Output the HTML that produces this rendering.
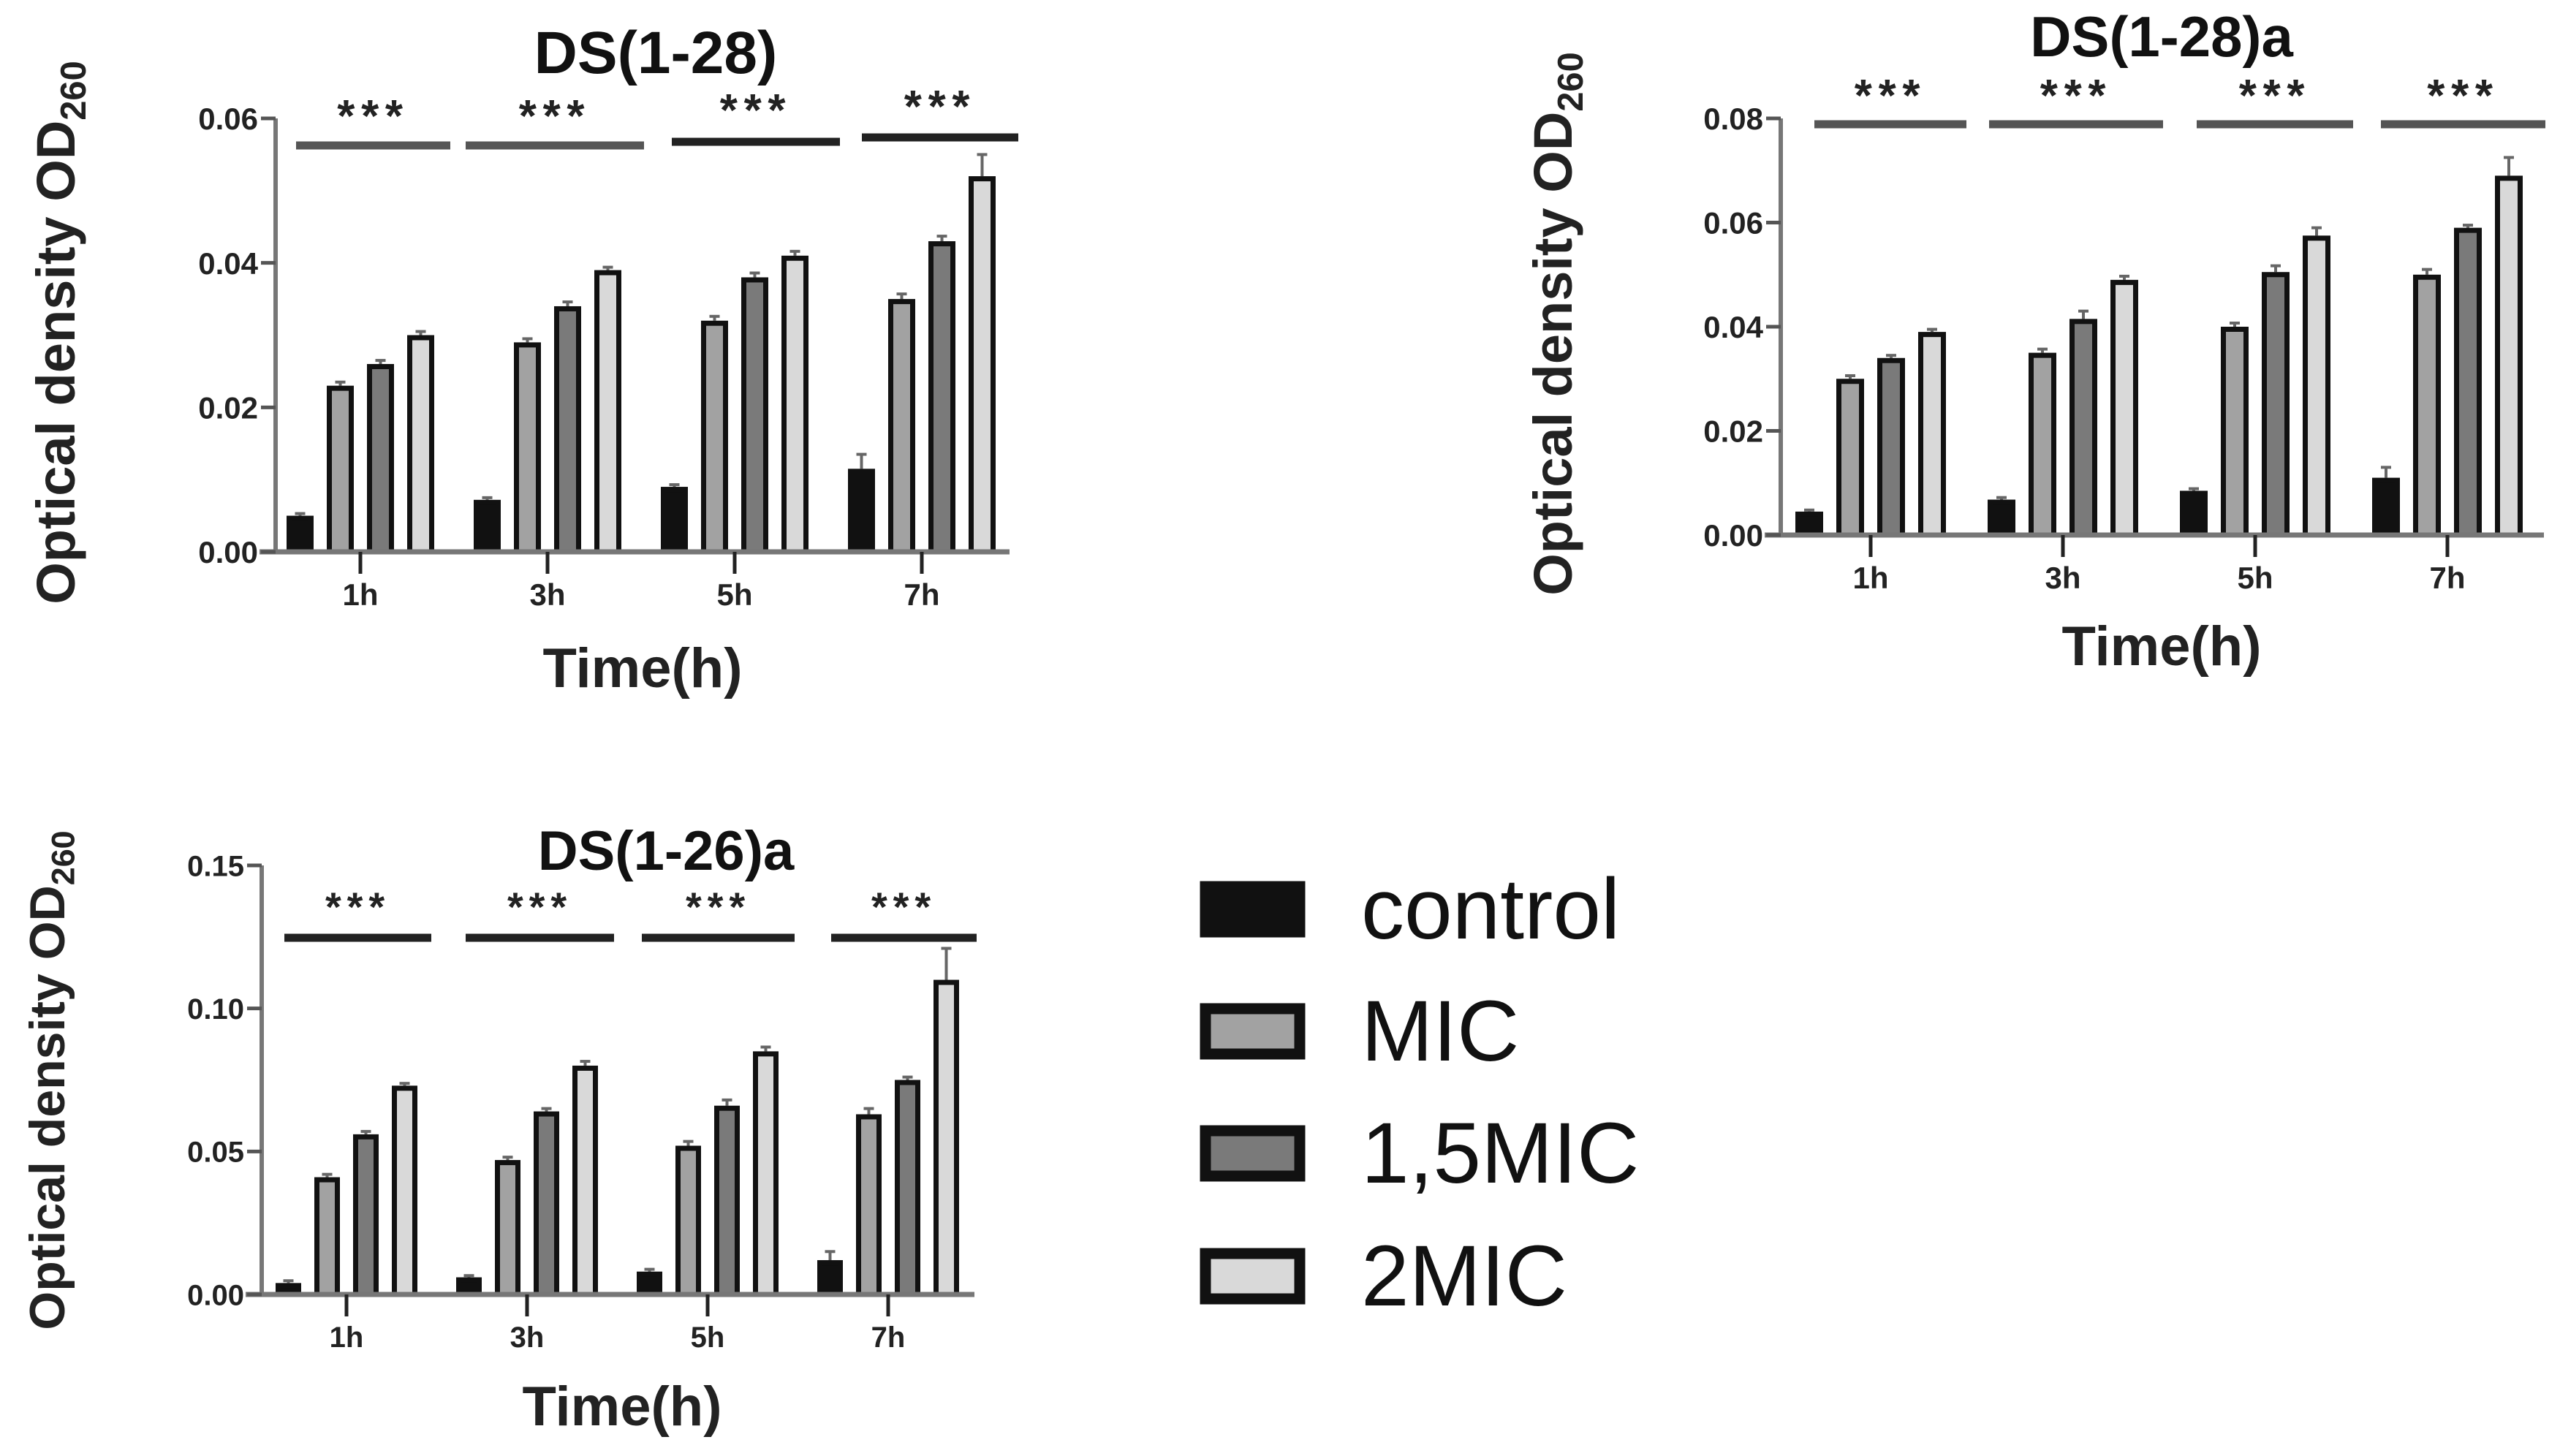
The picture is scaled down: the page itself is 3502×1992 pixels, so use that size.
<!DOCTYPE html>
<html><head><meta charset="utf-8"><style>
html,body{margin:0;padding:0;background:#fff}
svg{display:block}
text{font-family:"Liberation Sans",sans-serif;font-weight:bold}
</style></head><body>
<svg id="fig" width="3502" height="1992" viewBox="0 0 3502 1992" xmlns="http://www.w3.org/2000/svg"></svg>
<script>
// ---- data ----
const categories = ["1h","3h","5h","7h"];
const seriesNames = ["control","MIC","1,5MIC","2MIC"];
const seriesFills = ["#111111","#a2a2a2","#7a7a7a","#d9d9d9"];
// Chart A: DS(1-28)
const a_control = [0.005,0.0072,0.009,0.0115];
const a_mic = [0.023,0.029,0.032,0.035];
const a_mic15 = [0.026,0.034,0.038,0.043];
const a_mic2 = [0.030,0.039,0.041,0.052];
const a_err = [[0.0003,0.0003,0.0003,0.002],[0.0005,0.0005,0.0006,0.0007],[0.0005,0.0006,0.0006,0.0007],[0.0005,0.0004,0.0006,0.003]];
const a_ticks = ["0.00","0.02","0.04","0.06"];
// Chart B: DS(1-28)a
const b_control = [0.0045,0.0068,0.0085,0.011];
const b_mic = [0.030,0.035,0.040,0.050];
const b_mic15 = [0.034,0.0415,0.0505,0.059];
const b_mic2 = [0.039,0.049,0.0575,0.069];
const b_err = [[0.0003,0.0004,0.0004,0.002],[0.0006,0.0007,0.0007,0.001],[0.0005,0.0015,0.0012,0.0005],[0.0005,0.0007,0.0015,0.0035]];
const b_ticks = ["0.00","0.02","0.04","0.06","0.08"];
// Chart C: DS(1-26)a
const c_control = [0.004,0.006,0.008,0.012];
const c_mic = [0.041,0.047,0.052,0.063];
const c_mic15 = [0.056,0.064,0.066,0.075];
const c_mic2 = [0.073,0.080,0.085,0.110];
const c_err = [[0.0008,0.0006,0.0008,0.003],[0.001,0.001,0.0015,0.002],[0.001,0.001,0.002,0.001],[0.0008,0.0015,0.0015,0.011]];
const c_ticks = ["0.00","0.05","0.10","0.15"];

const NS="http://www.w3.org/2000/svg";
const svg=document.getElementById('fig');
function el(tag,attrs,parent){const e=document.createElementNS(NS,tag);for(const k in attrs)e.setAttribute(k,attrs[k]);(parent||svg).appendChild(e);return e;}

function chart(cfg,series,errs,ticks){
  const g=el('g',{});
  
  
  const ymax=parseFloat(ticks[ticks.length-1]);
  const y=v=>cfg.y0-(v/ymax)*(cfg.y0-cfg.yTop);
  const xc=i=>cfg.cx0+i*cfg.step;
  series.forEach((vals,s)=>{
    vals.forEach((v,i)=>{
      const bx=xc(i)+(s-1.5)*cfg.pitch-cfg.bw/2;
      const e=errs[s][i];
      const ln=el('line',{x1:bx+cfg.bw/2,x2:bx+cfg.bw/2,y1:y(v),y2:y(v+e),stroke:'#666','stroke-width':4},g);
      
      
      const cap=el('line',{x1:bx+cfg.bw/2-7,x2:bx+cfg.bw/2+7,y1:y(v+e),y2:y(v+e),stroke:'#666','stroke-width':4},g);
      
      
      const r=el('rect',{x:bx+3.5,y:y(v)+3.5,width:cfg.bw-7,height:Math.max(0,cfg.y0-y(v)-3.5),fill:seriesFills[s],stroke:'#111','stroke-width':7},g);
      
      
    });
  });
  const ya=el('line',{x1:cfg.ax,x2:cfg.ax,y1:cfg.yTop,y2:cfg.y0+3,stroke:'#777','stroke-width':6},g);
  
  
  const xa=el('line',{x1:cfg.ax-22,x2:cfg.xEnd,y1:cfg.y0,y2:cfg.y0,stroke:'#777','stroke-width':7},g);
  
  
  ticks.forEach(t=>{
    const yy=y(parseFloat(t));
    el('line',{x1:cfg.ax-20,x2:cfg.ax,y1:yy,y2:yy,stroke:'#555','stroke-width':5},g);
    const tx=el('text',{x:cfg.ax-24,y:yy+cfg.tf*0.36,'font-size':cfg.tf,'text-anchor':'end',fill:'#222'},g);
    tx.textContent=t;
    
    
  });
  categories.forEach((c,i)=>{
    el('line',{x1:xc(i),x2:xc(i),y1:cfg.y0,y2:cfg.y0+30,stroke:'#222','stroke-width':5},g);
    const tx=el('text',{x:xc(i),y:cfg.y0+cfg.catDy,'font-size':cfg.cf,'text-anchor':'middle',fill:'#222'},g);
    tx.textContent=c;
    
    
  });
  cfg.sig.forEach((s,i)=>{
    const l=el('line',{x1:s[0],x2:s[1],y1:s[2],y2:s[2],stroke:i>=cfg.darkFrom?'#222':'#555','stroke-width':11},g);
    
    
    const st=el('text',{x:(s[0]+s[1])/2,y:s[3],'font-size':cfg.sf,'text-anchor':'middle',fill:'#222','letter-spacing':cfg.sf*0.14},g);
    st.textContent='***';
    
    
  });
  const tt=el('text',{x:cfg.titleX,y:cfg.titleY,'font-size':cfg.titleF,'text-anchor':'middle',fill:'#111'},g);
  tt.textContent=cfg.title;
  
  
  const xt=el('text',{x:cfg.xtX,y:cfg.xtY,'font-size':cfg.xtF,'text-anchor':'middle',fill:'#222'},g);
  xt.textContent='Time(h)';
  
  
  const yt=el('text',{x:0,y:0,'font-size':cfg.ytF,'text-anchor':'middle',fill:'#222',transform:`translate(${cfg.ytX},${cfg.ytY}) rotate(-90)`},g);
  
  
  yt.appendChild(document.createTextNode('Optical density OD'));
  const sub=el('tspan',{'font-size':cfg.ytF*0.66,dy:cfg.ytF*0.2},yt);
  sub.textContent='260';
}

chart({name:'chart-ds-1-28',ax:377,yTop:162,y0:755,xEnd:1381,cx0:493,step:256,pitch:55,bw:37,tf:42,cf:42,catDy:73,
  sig:[[405,616,199,180],[637,881,199,180],[919,1149,194,172],[1179,1393,188,167]],darkFrom:2,sf:62,
  title:'DS(1-28)',titleX:897,titleY:100,titleF:82,xtX:879,xtY:940,xtF:76,ytX:102,ytY:455,ytF:74},
  [a_control,a_mic,a_mic15,a_mic2],a_err,a_ticks);
chart({name:'chart-ds-1-28a',ax:2436,yTop:162,y0:732,xEnd:3480,cx0:2559,step:263,pitch:56,bw:38,tf:42,cf:42,catDy:73,
  sig:[[2482,2690,170,152],[2721,2959,170,152],[3005,3219,170,152],[3257,3482,170,152]],darkFrom:9,sf:62,
  title:'DS(1-28)a',titleX:2957,titleY:77,titleF:78,xtX:2957,xtY:910,xtF:76,ytX:2150,ytY:443,ytF:74},
  [b_control,b_mic,b_mic15,b_mic2],b_err,b_ticks);
chart({name:'chart-ds-1-26a',ax:358,yTop:1184,y0:1771,xEnd:1333,cx0:474,step:247,pitch:53,bw:35,tf:40,cf:40,catDy:72,
  sig:[[389,590,1283,1260],[637,840,1283,1260],[878,1087,1283,1260],[1137,1336,1283,1260]],darkFrom:0,sf:56,
  title:'DS(1-26)a',titleX:911,titleY:1190,titleF:76,xtX:851,xtY:1950,xtF:76,ytX:88,ytY:1478,ytF:68},
  [c_control,c_mic,c_mic15,c_mic2],c_err,c_ticks);

// legend
const legY=[1206,1373,1540,1708];
const lg=el('g',{});


seriesNames.forEach((n,i)=>{
  const r=el('rect',{x:1649,y:legY[i]+7,width:129,height:62,fill:seriesFills[i],stroke:'#111','stroke-width':15},lg);
  
  
  const t=el('text',{x:1862,y:legY[i]+78,'font-size':118,fill:'#111',style:'font-weight:normal'},lg);
  t.textContent=n;
  
  
});
</script>
</body></html>
